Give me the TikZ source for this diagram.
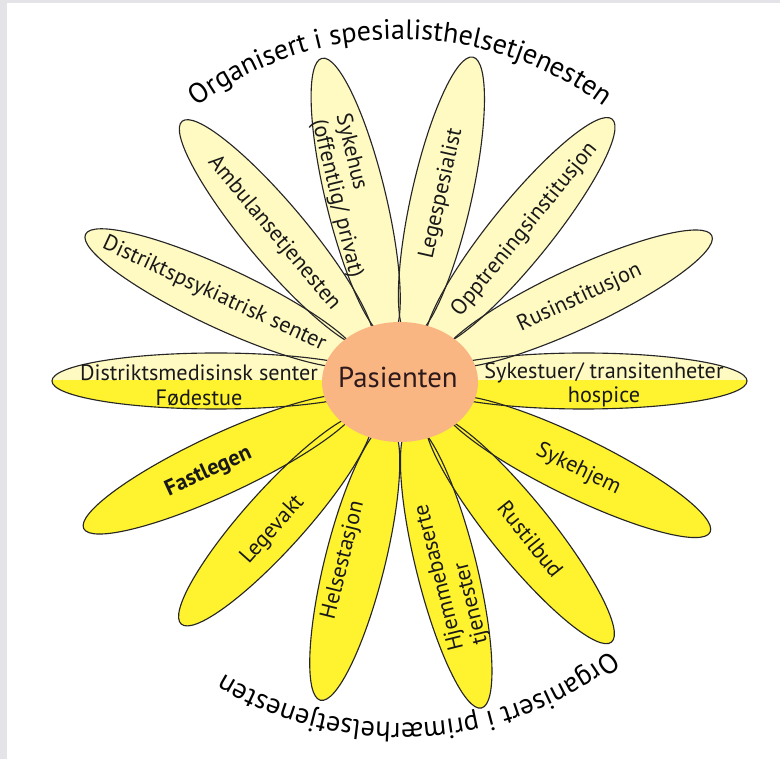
\documentclass[tikz,border=0pt]{standalone}
\usepackage{fontspec}
\setmainfont{PT Sans}
\usetikzlibrary{decorations.text}
\definecolor{petalpale}{HTML}{FFFAC2}
\definecolor{petalyellow}{HTML}{FFF22E}
\definecolor{hubpeach}{HTML}{F9B683}
\definecolor{hubink}{HTML}{2E1A1C}
\definecolor{framegrey}{HTML}{E4E4E8}

\tikzset{
  petal/.style={draw=black!85,line width=.8pt},
  petallabel/.style={font=\fontsize{15.8}{17.5}\selectfont,text=black!90,inner sep=0pt,align=center},
  ringtext/.style={decorate,decoration={text along path,text align=center,
    text={|\fontsize{20}{24}\selectfont|#1}}},
}
% angle / inner end / tip / half width / fill
\def\petallist{0/20/347/28/petalpale, 25/45/344/30/petalpale, 51/45/337/30/petalpale,
  77.3/45/332/30/petalpale, 103.6/45/332/30/petalpale, 130/45/339/30/petalpale,
  155/45/347/30/petalpale, 180/20/348/28/petalpale, -155/45/349/30/petalyellow,
  -132/45/327/30/petalyellow, -104/45/329/30/petalyellow, -76/45/337/30/petalyellow,
  -51/45/336/30/petalyellow, -26/45/345/30/petalyellow}

\begin{document}
\begin{tikzpicture}[x=.25mm,y=.25mm]
        % 1 unit = 1 px of the 780x759 picture, flower centre at the origin
        \useasboundingbox (-400,-378) rectangle (380,381);
        \fill[framegrey] (-400,-378) rectangle (380,381);
        \fill[white] (-393,-378) rectangle (380,378);

        % petals: fills first, then the outlines over them
        \foreach \a/\r/\l/\w/\c in \petallist
          \fill[fill=\c,rotate=\a] ({(\l+\r)/2},0) ellipse [x radius={(\l-\r)/2},y radius=\w];
        \begin{scope}
          \clip (-400,0) rectangle (380,-60);
          \fill[petalyellow] (183.5,0) ellipse [x radius=163.5,y radius=28];
          \fill[petalyellow] (-184,0) ellipse [x radius=164,y radius=28];
        \end{scope}
        \foreach \a/\r/\l/\w/\c in \petallist
          \draw[petal,rotate=\a] ({(\l+\r)/2},0) ellipse [x radius={(\l-\r)/2},y radius=\w];

        \node[petallabel] (medisinsk) at (-201,-4) {Distriktsmedisinsk senter\\Fødestue};
        \node[petallabel,rotate=-25] (psykiatrisk) at (155:205) {Distriktspsykiatrisk senter};
        \node[petallabel,rotate=-50] (ambulanse) at (130.5:194) {Ambulansetjenesten};
        \node[petallabel,rotate=-76.4,align=left] (sykehus) at (105.5:192) {Sykehus\\(offentlig/ privat)};
        \node[petallabel,rotate=77.3] (legespesialist) at (77.5:192) {Legespesialist};
        \node[petallabel,rotate=50.8] (opptrening) at (50.5:196) {Opptreningsinstitusjon};
        \node[petallabel,rotate=24.9] (rusinst) at (24.8:198) {Rusinstitusjon};
        \node[petallabel] (sykestuer) at (204,-4) {Sykestuer/ transitenheter\\hospice};
        \node[petallabel,rotate=-26] (sykehjem) at (-26.4:199) {Sykehjem};
        \node[petallabel,rotate=-51.3] (rustilbud) at (-50.5:205) {Rustilbud};
        \node[petallabel,rotate=104,align=left] (hjemme) at (-75:200) {Hjemmebaserte\\tjenester};
        \node[petallabel,rotate=76] (helsestasjon) at (-107.5:188) {Helsestasjon};
        \node[petallabel,rotate=48.2] (legevakt) at (-130.5:196) {Legevakt};
        \node[petallabel,rotate=24.7,font=\fontsize{15.8}{17.5}\selectfont\bfseries] (fastlegen) at (-154.6:212) {Fastlegen};

        \fill[hubpeach] (0,-1) ellipse [x radius=78,y radius=60];
        \node[font=\fontsize{20.5}{24}\selectfont,text=hubink] (pasienten) at (-2,4) {Pasienten};

        \path[ringtext={Organisert i spesialisthelsetjenesten}]
          (180:342) arc [start angle=180,end angle=0,radius=342];
        \path[ringtext={Organisert i primærhelsetjenesten}]
          (3.5:342) arc [start angle=3.5,end angle=-176.5,radius=342];
      \end{tikzpicture}
\end{document}
